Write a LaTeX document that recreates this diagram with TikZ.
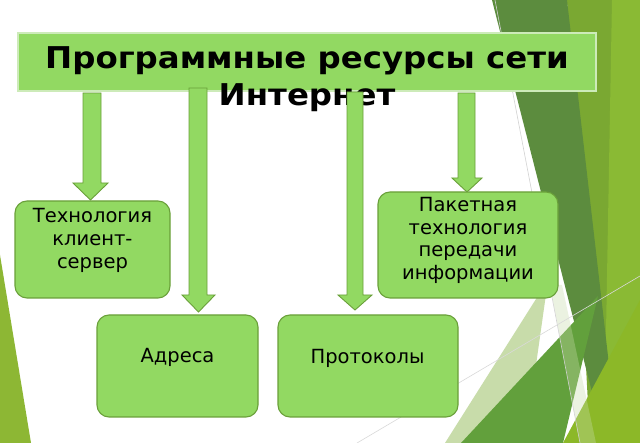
\documentclass[tikz,border=0pt]{standalone}
\usepackage{fontspec}
\setmainfont{DejaVu Sans}
\newfontfamily\titlefont[FakeStretch=1.08]{DejaVu Sans}
\definecolor{boxfill}{RGB}{146,217,98}
\definecolor{boxline}{RGB}{106,160,58}
\definecolor{titleline}{RGB}{205,235,185}
\definecolor{darkfacet}{RGB}{92,140,62}
\definecolor{olivefacet}{RGB}{122,168,50}
\definecolor{stripfacet}{RGB}{138,186,52}
\definecolor{midfacet}{RGB}{98,160,60}
\definecolor{yellowfacet}{RGB}{140,184,40}
\definecolor{palefacet}{RGB}{200,220,170}
\definecolor{leftfacet}{RGB}{141,183,52}
\newcommand\blockarr[7]{\filldraw[arrowstyle] (#1,#3) -- (#2,#3) -- (#2,#6) -- (#5,#6) -- ({(#4+#5)/2},#7) -- (#4,#6) -- (#1,#6) -- cycle;}
\begin{document}
\begin{tikzpicture}[x=1pt,y=-1pt,
  greenbox/.style={draw=boxline, fill=boxfill, line width=1.1pt, rounded corners=12pt, minimum width=#1, inner sep=0pt},
  titlebox/.style={draw=titleline, fill=boxfill, line width=1.4pt, minimum width=578pt, minimum height=58pt, inner sep=0pt},
  arrowstyle/.style={draw=boxline, fill=boxfill, line width=0.9pt, line join=miter},
  boxtext/.style={inner sep=0pt, align=center, font={\fontsize{19.5}{22.7}\selectfont}, anchor=north},
  titletext/.style={inner sep=0pt, align=center, font={\titlefont\fontsize{30}{37}\selectfont\bfseries}, anchor=north}]
\useasboundingbox (0,0) rectangle (640,443);
\fill[white] (0,0) rectangle (640,443);
% background facets
\fill[olivefacet] (567,0) -- (640,0) -- (640,443) -- (590,443) -- cycle;
\fill[stripfacet] (612,0) -- (640,0) -- (640,443) -- (604,443) -- cycle;
\fill[darkfacet] (492,0) -- (567,0) -- (618,443) -- (605,443) -- cycle;
\fill[palefacet] (548,280) -- (445,443) -- (525,443) -- cycle;
\fill[midfacet] (461,443) -- (598,296) -- (563,443) -- cycle;
\fill[yellowfacet] (563,443) -- (640,300) -- (640,443) -- cycle;
\fill[palefacet, opacity=0.35] (550,285) -- (562,285) -- (596,443) -- (580,443) -- cycle;
\draw[gray!35, line width=0.6pt] (495,0) -- (580,443);
\draw[gray!30, line width=0.6pt] (357,443) -- (640,276);
\fill[leftfacet] (0,255) -- (31,443) -- (0,443) -- cycle;
% title
\node[titlebox] (title) at (307,62) {};
\node[titletext] (ttl) at (307,46.5) {Программные ресурсы сети\\Интернет};
% arrows
\blockarr{83}{101}{93}{73}{108}{183}{200}
\blockarr{189}{207}{88}{182}{215}{295}{312}
\blockarr{347}{363}{92}{338}{372}{295}{310}
\blockarr{458}{475}{93}{452}{482}{178}{192}
% boxes
\node[greenbox=155pt, minimum height=97pt] (b1) at (92.5,249.5) {};
\node[greenbox=180pt, minimum height=106pt] (b4) at (468,245) {};
\node[greenbox=161pt, minimum height=102pt] (b2) at (177.5,366) {};
\node[greenbox=180pt, minimum height=102pt] (b3) at (368,366) {};
\node[boxtext] (t1) at (92.5,208.3) {Технология\\клиент-\\сервер};
\node[boxtext] (t4) at (468,197) {Пакетная\\технология\\передачи\\информации};
\node[boxtext] (t2) at (177.5,348.5) {Адреса};
\node[boxtext] (t3) at (367.5,349.5) {Протоколы};
\end{tikzpicture}
\end{document}
